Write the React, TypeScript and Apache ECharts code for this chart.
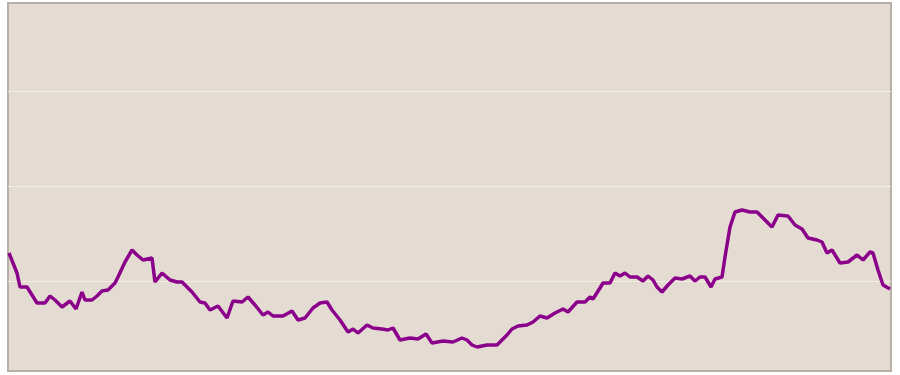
import React, { useEffect, useRef } from "react";
import * as echarts from "echarts";

// x: day index, y: index value
const days = [1,5,9,12,19,24,29,37,42,47,54,62,68,74,77,84,89,94,100,107,110,117,124,129,135,144,147,154,162,169,174,184,192,197,202,210,219,225,234,240,247,255,260,265,275,284,290,297,305,312,319,324,332,340,345,350,359,365,374,380,385,392,402,410,418,424,435,445,454,459,464,469,479,489,494,499,504,510,519,525,532,539,547,555,560,569,577,582,585,592,595,602,607,612,617,622,629,635,640,645,649,654,660,667,674,682,687,692,697,703,707,714,717,722,727,734,742,749,755,764,770,780,787,794,800,809,814,819,824,832,840,849,855,862,865,870,875,882];
const values = [123,113,103,89,89,81,73,73,80,76,69,75,67,84,76,76,80,85,86,93,99,114,126,121,116,118,94,103,96,94,94,84,74,73,66,70,58,75,74,79,71,61,64,60,60,65,56,58,68,73,74,66,56,44,47,43,51,48,47,46,48,36,38,37,42,33,35,34,38,36,31,29,31,31,36,41,47,50,51,54,60,58,63,67,64,74,74,79,77,88,93,93,103,100,103,99,99,95,100,96,89,84,91,98,97,100,95,99,99,89,97,99,119,149,164,166,164,164,158,149,161,160,151,147,138,136,134,123,126,113,114,121,116,124,123,106,91,87];
const gridValues = [95, 190, 285];

export default function App() {
  const ref = useRef<HTMLDivElement>(null);
  useEffect(() => {
    document.body.style.margin = "0";
    const chart = echarts.init(ref.current!, null, { renderer: "svg" });
    chart.setOption({
      animation: false,
      backgroundColor: "#ffffff",
      grid: {
        left: 8,
        right: 9,
        top: 3,
        bottom: 4,
        show: true,
        backgroundColor: "#e4dcd3",
        borderColor: "#b8aea6",
        borderWidth: 2,
      },
      xAxis: {
        type: "value",
        min: 0,
        max: 883,
        show: false,
        splitLine: { show: false },
      },
      yAxis: {
        type: "value",
        min: 5,
        max: 373,
        axisLine: { show: false },
        axisTick: { show: false },
        axisLabel: { show: false },
        splitLine: { show: false },
      },
      series: [
        {
          type: "line",
          data: days.map((d, i) => [d, values[i]]),
          showSymbol: false,
          lineStyle: { color: "#8b008b", width: 3.5 },
          z: 3,
          markLine: {
            silent: true,
            symbol: "none",
            label: { show: false },
            lineStyle: { color: "#f2eee2", width: 1, type: "solid" },
            data: gridValues.map((v) => ({ yAxis: v })),
            z: 1,
          },
        },
      ],
    });
    return () => chart.dispose();
  }, []);
  return <div ref={ref} style={{ width: 900, height: 375 }} />;
}
